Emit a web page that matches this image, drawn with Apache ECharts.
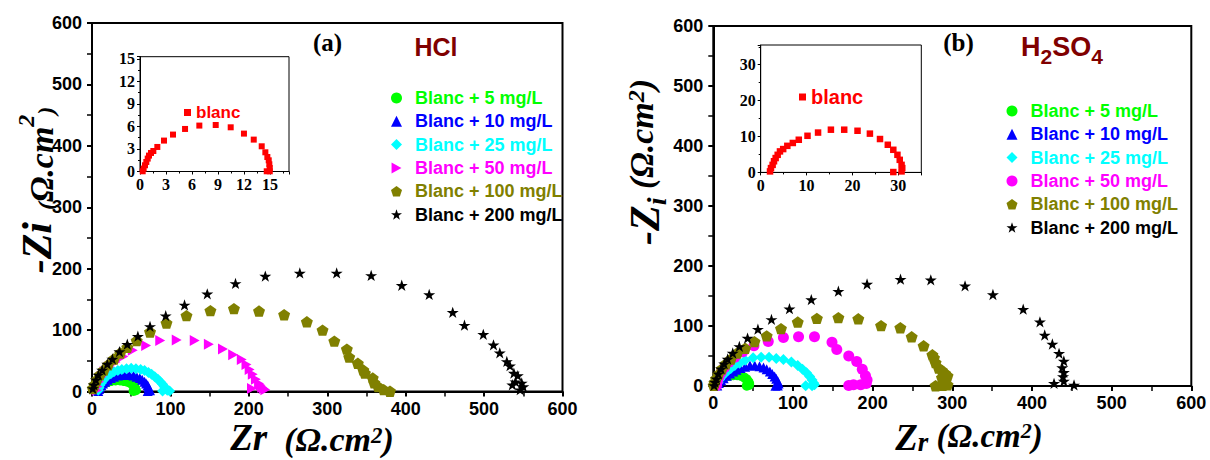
<!DOCTYPE html>
<html><head><meta charset="utf-8">
<script src="https://cdn.jsdelivr.net/npm/echarts@6/dist/echarts.min.js"></script>
<style>html,body{margin:0;padding:0;background:#fff}#c{width:1210px;height:460px}</style>
</head><body><div id="c"></div><script>
// ---------- DATA ----------
const seriesNames = ['Blanc + 5 mg/L','Blanc + 10 mg/L','Blanc + 25 mg/L','Blanc + 50 mg/L','Blanc + 100 mg/L','Blanc + 200 mg/L'];
const mainTicks = [0,100,200,300,400,500,600];

// Panel (a) HCl : [Zr, -Zi]
const hcl5 = [[8,1],[9,4],[10,7],[12,10],[15,13],[19,15],[24,17],[30,18],[36,18],[41,17],[45,16],[49,14],[52,11],[54,8],[55,5],[56,2],[53,1]];
const hcl10 = [[8,1],[9,4],[10,7],[12,10],[14,13],[17,16],[20,19],[24,22],[28,24],[33,26],[38,27],[43,28],[48,27],[53,26],[57,24],[61,22],[64,19],[67,16],[69,13],[71,10],[72,7],[73,4],[74,2],[71,1]];
const hcl25 = [[8,2],[9,6],[10,10],[12,14],[14,18],[17,22],[20,26],[24,29],[28,32],[33,34],[38,36],[44,37],[50,38],[56,37],[62,36],[67,34],[72,31],[76,28],[80,24],[84,20],[87,16],[90,12],[92,8],[94,5],[96,2],[99,1],[90,1]];
const hcl50 = [[6,2],[7,8],[9,16],[12,24],[16,32],[22,40],[30,48],[40,57],[52,67],[69,75],[87,83],[108,84],[131,83],[149,77],[167,69],[180,60],[191,52],[197,44],[201,36],[205,28],[209,20],[213,13],[215,10],[217,7],[219,5],[221,3],[204,5]];
const hcl100 = [[1,5],[3,11],[6,19],[10,27],[15,35],[20.5,43.5],[28,53],[36,62.6],[45,72],[57,83],[74,97],[95,111.5],[120.5,123.5],[151,131.7],[181,135],[213,131],[245,125],[274,113.5],[294,100],[309,82],[325,69],[328,56],[339,46],[346,35],[348,30],[358,22],[360,14],[365,8],[372,3],[380,0.5]];
const hcl200 = [[1,5],[2.4,11],[5,19],[8,27],[13,35],[19.5,44.6],[26,53],[35,65],[45,77],[58.5,90],[74,106],[94,123.5],[118,141],[147,159],[183,176],[221,188],[265,193],[312,193],[356,189],[395,173],[430,158],[460,129],[475,108],[499,93],[512,76],[520,63],[529,49],[533,42],[538,30],[543,26],[540,16],[548,14],[536,11],[550,8],[546,3]];
const hclBlanc = [[0.31,0.03],[0.42,0.39],[0.58,0.83],[0.73,1.27],[0.89,1.72],[1.04,2.12],[1.27,2.47],[1.54,2.73],[2.0,3.27],[2.77,4.12],[3.81,4.92],[5.2,5.67],[6.85,6.12],[8.74,6.2],[10.47,5.89],[12.0,5.05],[13.13,4.25],[14.05,3.36],[14.47,2.56],[14.7,1.93],[14.86,1.49],[14.93,0.96],[14.98,0.47],[14.98,0.03],[14.63,0.03]];

// Panel (b) H2SO4 : [Zr, -Zi]
const h2so5 = [[3,1],[5,5],[8,9],[11,12],[15,15],[20,17],[25,18],[30,18],[35,17],[39,14],[42,11],[44,7],[45,4],[45,2],[42,0.5]];
const h2so10 = [[5,1],[7,5],[10,9],[13,13],[17,17],[21,21],[25,24],[29,27],[34,30],[40,32],[46,34],[52,34],[58,33],[63,31],[67,28],[71,24],[74,20],[77,16],[79,12],[81,8],[82,4],[81,1],[78,0.5]];
const h2so25 = [[4,1],[6,6],[8,11],[11,16],[14,21],[18,25],[22,29],[27,34],[33,38],[40,43],[50,47],[60,48],[70,48],[79,46],[88,44],[98,40],[106,34],[112,28],[117,22],[121,16],[124,10],[126,5],[127,2],[124,0.5],[116,0.5]];
const h2so50 = [[4,1],[5,7],[7,15],[10,23],[14,31],[19.5,39.6],[27,48],[37,57],[51,67],[69,74],[88,81],[107,82],[127,82],[149,73],[155,61],[170,50],[180,41],[187,28],[191,17],[193,10],[192,4],[185,2],[176,2],[170,1]];
const h2so100 = [[0.5,1],[1.5,5.5],[3.4,12],[6.3,19.3],[10.7,28.6],[15.6,36.9],[22,45],[30,55],[40,62.8],[51.7,74],[67,83.5],[85,95.6],[106,106.6],[130,112.7],[157,114],[182,112],[210.6,100.6],[234.8,97.2],[249,82],[264,67],[275,52],[277,47],[279,39],[283,30],[287,26],[291,21],[294,17],[287,14],[291,7],[294,2],[288,1],[279,0.5]];
const h2so200 = [[1,1],[2,6.6],[3.9,12],[6.3,20.4],[9.8,28.6],[13.7,36.9],[18,45],[24.4,55],[32.7,66],[43,79.8],[56,94.7],[73,111],[95.6,128.8],[123,144],[157,158],[193,170],[235,178],[273,177],[316,167],[351,152.5],[389,128],[410,107],[416,85],[425.6,70],[434,54.4],[440,41.7],[438,30.6],[440,22.8],[439,15.6],[440,8.3],[427.7,4.4],[452.8,1.7]];
const h2soBlanc = [[2.03,0.28],[2.24,1.2],[2.6,2.1],[2.9,3.1],[3.26,4.0],[3.7,4.9],[4.2,5.85],[4.9,6.5],[5.8,7.4],[7.0,8.2],[8.3,9.1],[10.2,10.2],[12.5,11.1],[15.3,11.9],[18.2,11.9],[21.1,11.6],[23.8,10.8],[26,9.3],[27.7,7.7],[28.9,6.3],[29.8,4.9],[30.3,3.5],[30.7,2.1],[30.85,1.2],[30.7,0.28],[28.9,0.1]];

// ---------- STYLE ----------
const SANS = "'Liberation Sans', Arial, sans-serif";
const SERIF = "'Liberation Serif', 'Times New Roman', serif";
const colors = ['#00ff00','#0000ff','#00ffff','#ff00ff','#808000','#000000'];
const STAR = 'path://M50,0 L61.8,35.1 L98.1,35.1 L68.8,56.7 L79.4,90.5 L50,69.1 L20.6,90.5 L31.2,56.7 L1.9,35.1 L38.2,35.1 Z';
const PENTA = 'path://M50,0 L97.6,34.5 L79.4,90.5 L20.6,90.5 L2.4,34.5 Z';
const TRI_R = 'path://M0,0 L90,50 L0,100 Z';
const symA = ['circle','triangle','diamond',TRI_R,PENTA,STAR];
const symB = ['circle','triangle','diamond','circle',PENTA,STAR];
const sizes = [10,10,11,11,12,12];

const dataA = [hcl5,hcl10,hcl25,hcl50,hcl100,hcl200];
const dataB = [h2so5,h2so10,h2so25,h2so50,h2so100,h2so200];

function mainX(grid){
  return {type:'value',gridIndex:grid,min:mainTicks[0],max:mainTicks[mainTicks.length-1],interval:100,
    axisLine:{lineStyle:{color:'#000',width:2}},
    axisTick:{length:5,lineStyle:{color:'#000',width:2}},
    minorTick:{show:true,splitNumber:2,length:5,lineStyle:{color:'#000',width:1.5}},
    splitLine:{show:false},
    axisLabel:{color:'#000',fontFamily:SANS,fontWeight:'bold',fontSize:18,margin:8}};
}
function mainY(grid){
  const a = mainX(grid); a.axisLabel = Object.assign({},a.axisLabel,{margin:10}); return a;
}
function insetAxis(grid,max,interval){
  return {type:'value',gridIndex:grid,min:0,max:max,interval:interval,
    axisLine:{lineStyle:{color:'#000',width:1}},
    axisTick:{length:3,lineStyle:{color:'#000',width:1}},
    minorTick:{show:true,splitNumber:2,length:2,lineStyle:{color:'#000',width:1}},
    splitLine:{show:false},
    axisLabel:{color:'#000',fontFamily:SERIF,fontWeight:'bold',fontSize:16,margin:5,
      formatter:v=>Math.abs(v/interval-Math.round(v/interval))<1e-6?String(Math.round(v)):''}};
}

const series = [];
seriesNames.forEach((n,i)=>{
  series.push({type:'scatter',name:n,xAxisIndex:0,yAxisIndex:0,data:dataA[i],symbol:symA[i],
    symbolSize:sizes[i],symbolKeepAspect:true,itemStyle:{color:colors[i],opacity:1},z:2+i});
});
seriesNames.forEach((n,i)=>{
  series.push({type:'scatter',name:n+' ',xAxisIndex:2,yAxisIndex:2,data:dataB[i],symbol:symB[i],
    symbolSize:sizes[i],symbolKeepAspect:true,itemStyle:{color:colors[i],opacity:1},z:2+i});
});
series.push({type:'scatter',name:'blanc',xAxisIndex:1,yAxisIndex:1,data:hclBlanc,symbol:'rect',symbolSize:6,itemStyle:{color:'#ff0000',opacity:1}});
series.push({type:'scatter',name:'blanc ',xAxisIndex:3,yAxisIndex:3,data:h2soBlanc,symbol:'rect',symbolSize:6.5,itemStyle:{color:'#ff0000',opacity:1}});

function mkLegend(names,left,top,fs,gap){
  return {orient:'vertical',left:left,top:top,itemWidth:11,itemHeight:11,itemGap:gap,selectedMode:false,
    formatter:n=>n.trim(),
    data:names.map((n,i)=>({name:n,textStyle:{color:colors[i]}})),
    textStyle:{fontFamily:SANS,fontWeight:'bold',fontSize:fs,lineHeight:18,padding:[0,0,0,8]}};
}

const rz = {fontFamily:SERIF,fontStyle:'italic',fontWeight:'bold',fill:'#000'};
function R(size,extra){return Object.assign({},rz,{fontSize:size},extra||{});}

const option = {
  animation:false,
  backgroundColor:'#fff',
  grid:[
    {left:92,top:23,width:470.5,height:368.5,show:true,borderColor:'#000',borderWidth:2,backgroundColor:'transparent'},
    {left:140,top:56.7,width:149,height:114.8,show:true,borderColor:'#000',borderWidth:1,backgroundColor:'#fff'},
    {left:713.3,top:26,width:478,height:360,show:true,borderColor:'#000',borderWidth:2,backgroundColor:'transparent'},
    {left:760.7,top:45,width:160.6,height:127.4,show:true,borderColor:'#000',borderWidth:1,backgroundColor:'#fff'}
  ],
  xAxis:[mainX(0),insetAxis(1,17.2,3),mainX(2),insetAxis(3,35,10)],
  yAxis:[mainY(0),insetAxis(1,15.3,3),mainY(2),insetAxis(3,35.5,10)],
  legend:[
    mkLegend(seriesNames,386,84,18,5.3),
    mkLegend(seriesNames.map(n=>n+' '),1001.5,97,18,5.3),
    {left:179,top:99,itemWidth:7,itemHeight:7,selectedMode:false,formatter:n=>n.trim(),data:['blanc'],
      textStyle:{color:'#ff0000',fontFamily:SANS,fontWeight:'bold',fontSize:17}},
    {left:794,top:82,itemWidth:7,itemHeight:7,selectedMode:false,formatter:n=>n.trim(),data:['blanc '],
      textStyle:{color:'#ff0000',fontFamily:SANS,fontWeight:'bold',fontSize:20}}
  ],
  graphic:[
    {type:'text',x:327.5,y:42,style:{text:'(a)',font:"bold 25px "+SERIF,fill:'#000',align:'center',verticalAlign:'middle'}},
    {type:'text',x:436,y:47,style:{text:'HCl',font:"bold 25px "+SANS,fill:'#800000',align:'center',verticalAlign:'middle'}},
    {type:'text',x:958.5,y:42,style:{text:'(b)',font:"bold 25px "+SERIF,fill:'#000',align:'center',verticalAlign:'middle'}},
    {type:'text',x:1062,y:50,style:{text:'{m|H}{s|2}{m|SO}{s|4}',align:'center',verticalAlign:'middle',
      rich:{m:{fontFamily:SANS,fontWeight:'bold',fontSize:27,fill:'#800000',verticalAlign:'top',lineHeight:34},
            s:{fontFamily:SANS,fontWeight:'bold',fontSize:21,fill:'#800000',verticalAlign:'bottom',lineHeight:21}}}},
    // axis titles panel a
    {type:'text',x:36,y:190,rotation:Math.PI/2,style:{text:'{z|-Zi}{p|  (}{w|Ω.cm}{s|2}{p|)}',align:'center',verticalAlign:'middle',
      rich:{z:R(42,{lineHeight:44,verticalAlign:'bottom'}),p:R(24,{lineHeight:44,verticalAlign:'bottom'}),w:R(34,{lineHeight:44,verticalAlign:'bottom'}),s:R(24,{lineHeight:24,verticalAlign:'top'})}}},
    {type:'text',x:312,y:440,style:{text:'{z|Zr}{w|  (Ω.cm}{s|2}{w|)}',align:'center',verticalAlign:'middle',
      rich:{z:R(37,{lineHeight:32,verticalAlign:'bottom'}),w:R(34,{lineHeight:32,verticalAlign:'bottom'}),s:R(23,{lineHeight:22,verticalAlign:'top'})}}},
    // axis titles panel b
    {type:'text',x:647,y:162,rotation:Math.PI/2,style:{text:'{z|-Z}{i|i}{w| (Ω.cm}{s|2}{w|)}',align:'center',verticalAlign:'middle',
      rich:{z:R(42,{lineHeight:46,verticalAlign:'top'}),i:R(28,{lineHeight:28,verticalAlign:'bottom'}),w:R(34,{lineHeight:46,verticalAlign:'top'}),s:R(24,{lineHeight:24,verticalAlign:'top'})}}},
    {type:'text',x:969,y:437,style:{text:'{z|Z}{i|r}{w| (Ω.cm}{s|2}{w|)}',align:'center',verticalAlign:'middle',
      rich:{z:R(37,{lineHeight:36,verticalAlign:'top'}),i:R(27,{lineHeight:24,verticalAlign:'bottom'}),w:R(33,{lineHeight:36,verticalAlign:'top'}),s:R(22,{lineHeight:22,verticalAlign:'top'})}}}
  ],
  series:series
};
const chart = echarts.init(document.getElementById('c'),null,{renderer:'svg'});
chart.setOption(option);
</script></body></html>
